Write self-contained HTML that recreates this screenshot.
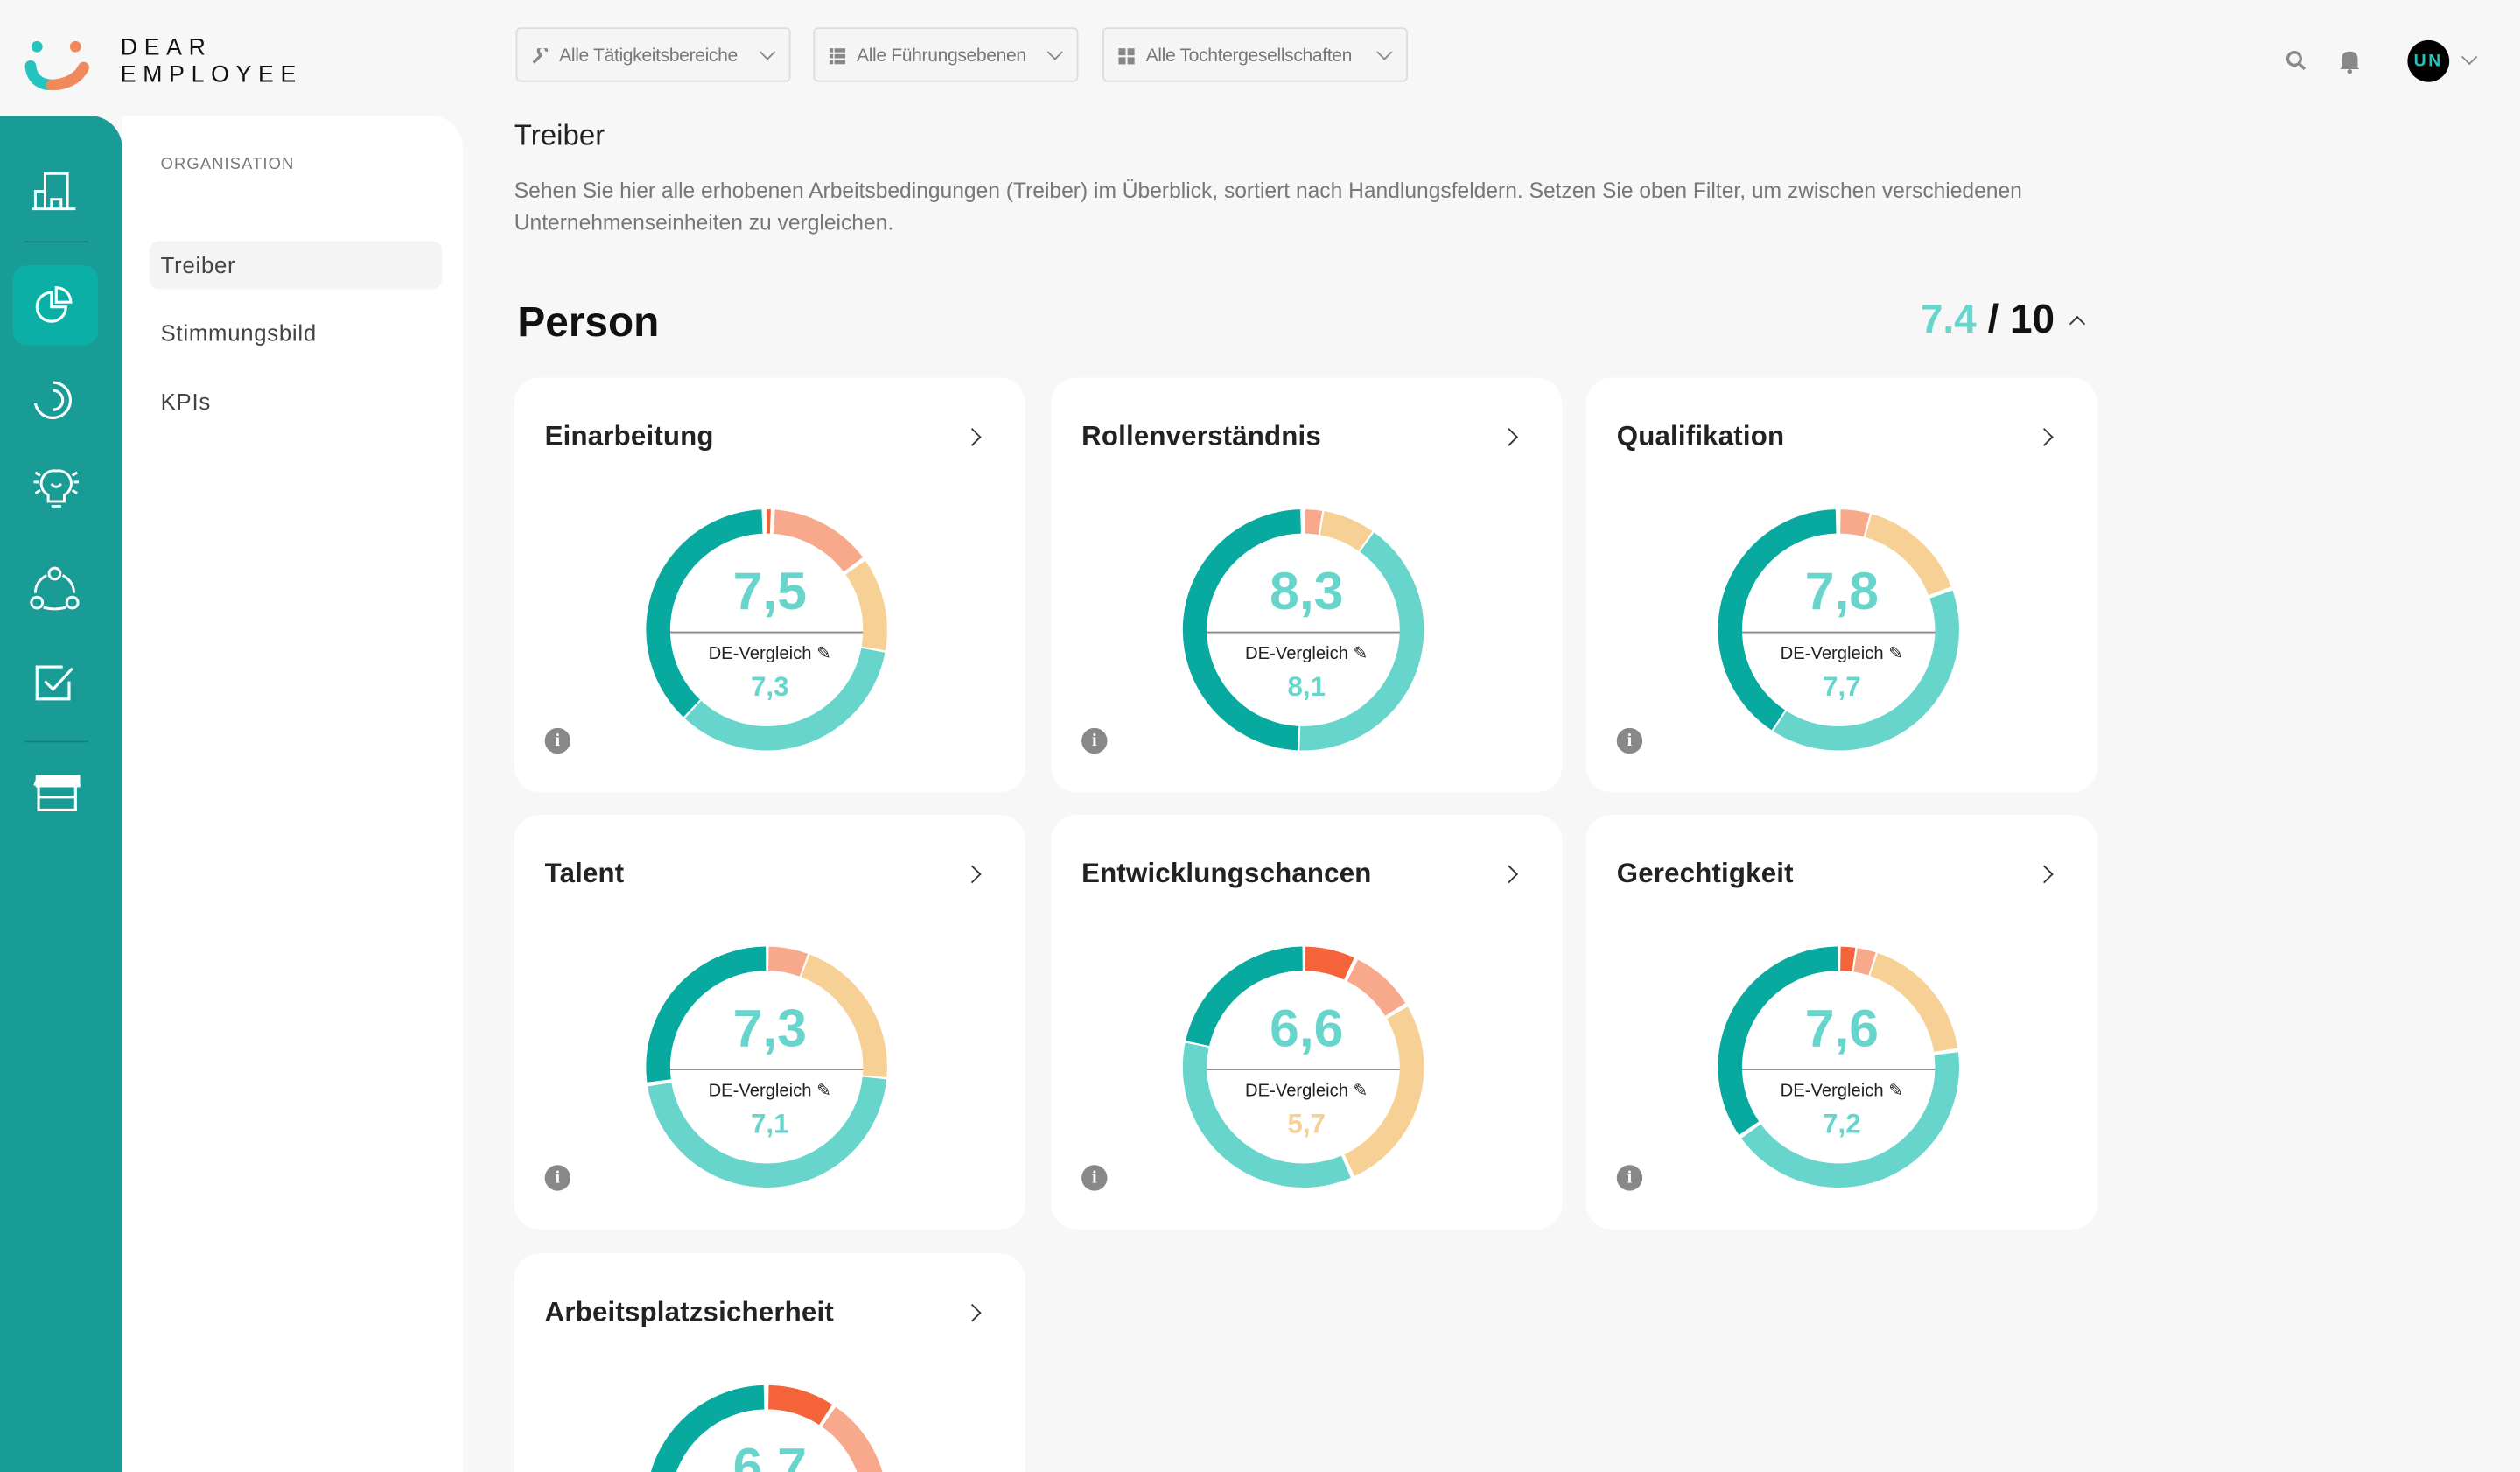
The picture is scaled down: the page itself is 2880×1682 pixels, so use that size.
<!DOCTYPE html>
<html><head><meta charset="utf-8">
<style>
html,body{margin:0;padding:0;width:2880px;height:1682px;overflow:hidden;background:#f7f7f7;}
#outer{position:relative;width:2880px;height:1682px;overflow:hidden;}
#w{position:absolute;left:0;top:0;width:1568px;height:916px;overflow:hidden;transform:scale(1.83673,1.83624);transform-origin:0 0;font-family:"Liberation Sans",sans-serif;color:#222;}
.abs{position:absolute;}
.filter{position:absolute;top:17px;height:34px;border:1px solid #ddd;border-radius:3px;background:#f5f5f5;font-size:11.5px;color:#777;line-height:34px;box-sizing:border-box;padding-left:26px;letter-spacing:-0.2px}
.filter .ic{position:absolute;left:9px;top:12px;width:10px;height:10px;}
.filter .ch{position:absolute;right:10px;top:11px;width:6px;height:6px;border-right:1.2px solid #888;border-bottom:1.2px solid #888;transform:rotate(45deg);}
.card{position:absolute;width:318px;height:258px;background:#fff;border-radius:16px;}
.card h3{position:absolute;left:19px;top:27px;margin:0;font-size:17px;font-weight:bold;color:#222;letter-spacing:0.1px}
.card .arr{position:absolute;left:281px;top:33px;width:7px;height:7px;border-right:1.4px solid #333;border-top:1.4px solid #333;transform:rotate(45deg);}
.card svg{position:absolute;left:77px;top:77px;}
.card .big{position:absolute;left:0;width:318px;text-align:center;top:114px;font-size:33px;font-weight:bold;color:#67d5cb;}
.card .ln{position:absolute;left:97px;width:120px;top:158px;height:1.3px;background:#888;}
.card .de{position:absolute;left:0;width:318px;text-align:center;top:165px;font-size:11px;color:#222;}
.card .sm{position:absolute;left:0;width:318px;text-align:center;top:183px;font-size:17px;font-weight:bold;color:#67d5cb;}
.card .info{position:absolute;left:19px;top:218px;width:16px;height:16px;border-radius:50%;background:#888;color:#fff;font-size:11px;font-weight:bold;text-align:center;line-height:16px;font-family:"Liberation Serif",serif}
.side svg{position:absolute;}
</style></head><body><div id="outer"><div id="w">

<svg class="abs" style="left:14px;top:22px" width="50" height="34" viewBox="0 0 50 34">
<circle cx="9" cy="7" r="3.5" fill="#26c4bf"/><circle cx="33" cy="7" r="3.5" fill="#f08a5d"/>
<path d="M5 19 Q6 30 18 31" stroke="#26c4bf" stroke-width="7" fill="none" stroke-linecap="round"/>
<path d="M18 31 Q33 30 38 20" stroke="#f08a5d" stroke-width="7" fill="none" stroke-linecap="round"/>
</svg>
<div class="abs" style="left:75px;top:22px;font-size:14.5px;letter-spacing:4.2px;line-height:17px;color:#111">DEAR<br>EMPLOYEE</div>

<div class="filter" style="left:321px;width:171px"><svg class="ic" viewBox="0 0 10 10"><path d="M1 9 L6 4 M6 4 A2.5 2.5 0 1 1 9 2" stroke="#888" stroke-width="1.8" fill="none"/></svg>Alle Tätigkeitsbereiche<span class="ch"></span></div>
<div class="filter" style="left:506px;width:165px"><svg class="ic" viewBox="0 0 10 10"><rect x="0" y="0" width="10" height="2.5" fill="#888"/><rect x="0" y="3.7" width="10" height="2.5" fill="#888"/><rect x="0" y="7.4" width="10" height="2.5" fill="#888"/><rect x="2.4" y="0" width="0.8" height="10" fill="#f5f5f5"/></svg>Alle Führungsebenen<span class="ch"></span></div>
<div class="filter" style="left:686px;width:190px"><svg class="ic" viewBox="0 0 10 10"><rect x="0" y="0" width="4.4" height="4.4" fill="#888"/><rect x="5.6" y="0" width="4.4" height="4.4" fill="#888"/><rect x="0" y="5.6" width="4.4" height="4.4" fill="#888"/><rect x="5.6" y="5.6" width="4.4" height="4.4" fill="#888"/></svg>Alle Tochtergesellschaften<span class="ch"></span></div>

<svg class="abs" style="left:1422px;top:31px" width="14" height="14" viewBox="0 0 14 14"><circle cx="5.5" cy="5.5" r="4" stroke="#888" stroke-width="1.8" fill="none"/><path d="M8.5 8.5 L12 12" stroke="#888" stroke-width="1.8"/></svg>
<svg class="abs" style="left:1455px;top:30px" width="14" height="16" viewBox="0 0 14 16"><path d="M2 12 L2 7 Q2 2 7 2 Q12 2 12 7 L12 12 L13 13 L1 13 Z" fill="#888"/><circle cx="7" cy="14.5" r="1.5" fill="#888"/></svg>
<div class="abs" style="left:1498px;top:25px;width:26px;height:26px;border-radius:50%;background:#000;color:#26c4bf;font-size:10.5px;font-weight:bold;text-align:center;line-height:26px;letter-spacing:1.5px">UN</div>
<div class="abs" style="left:1533px;top:32px;width:6px;height:6px;border-right:1.5px solid #888;border-bottom:1.5px solid #888;transform:rotate(45deg)"></div>

<div class="abs side" style="left:0;top:72px;width:76px;height:844px;background:#1a9c96;border-top-right-radius:20px">
 <div class="abs" style="left:15px;top:78px;width:40px;height:1px;background:#15827d"></div>
 <div class="abs" style="left:8px;top:93px;width:53px;height:50px;border-radius:9px;background:#0bafa5"></div>
 <div class="abs" style="left:15px;top:389px;width:40px;height:1px;background:#15827d"></div>
 <svg style="left:19px;top:33px" width="30" height="28" viewBox="0 0 30 28" fill="none" stroke="#fff" stroke-width="1.6"><path d="M1 25 H28 M3 25 V14 H9 M9 25 V3 H23 V25 M13 25 V19 H19 V25"/></svg>
 <svg style="left:20px;top:104px" width="28" height="28" viewBox="0 0 28 28" fill="none" stroke="#fff" stroke-width="1.7"><path d="M12 6 A9 9 0 1 0 21 15 H12 Z"/><path d="M15 3 A9 9 0 0 1 24 12 H15 Z"/></svg>
 <svg style="left:20px;top:163px" width="28" height="28" viewBox="0 0 28 28" fill="none" stroke="#fff" stroke-width="1.7"><path d="M13 3 A11 11 0 1 1 2 16"/><path d="M13 8 A6 6 0 0 1 13 20"/></svg>
 <svg style="left:19px;top:218px" width="32" height="30" viewBox="0 0 32 30" fill="none" stroke="#fff" stroke-width="1.6"><path d="M16 3 A8 8 0 0 0 11 18 V22 H21 V18 A8 8 0 0 0 16 3 Z M13 25 H19 M2 10 H5 M27 10 H30 M3 4 L6 6 M29 4 L26 6 M3 17 L6 15 M29 17 L26 15 M13 11 Q16 15 19 11"/></svg>
 <svg style="left:18px;top:280px" width="32" height="30" viewBox="0 0 32 30" fill="none" stroke="#fff" stroke-width="1.6"><circle cx="16" cy="5" r="3.5"/><circle cx="5" cy="23" r="3.5"/><circle cx="27" cy="23" r="3.5"/><path d="M11 6 Q4 10 4 17 M21 6 Q28 10 28 17 M9 26 Q16 28 23 26"/></svg>
 <svg style="left:20px;top:340px" width="28" height="26" viewBox="0 0 28 26" fill="none" stroke="#fff" stroke-width="1.7"><path d="M19 3 H3 V23 H23 V12"/><path d="M8 12 L13 17 L25 4"/></svg>
 <svg style="left:21px;top:408px" width="30" height="26" viewBox="0 0 30 26" fill="none" stroke="#fff" stroke-width="1.7"><path d="M3 9 V24 H26 V9 M3 16 H26 M3 3 H26 L28 8 H1 Z" fill="none"/><rect x="2" y="3" width="26" height="6" fill="#fff"/></svg>
</div>

<div class="abs" style="left:76px;top:72px;width:212px;height:844px;background:#fff;border-top-right-radius:20px">
 <div class="abs" style="left:24px;top:25px;font-size:10px;letter-spacing:0.6px;color:#777">ORGANISATION</div>
 <div class="abs" style="left:17px;top:78px;width:182px;height:30px;border-radius:6px;background:#f4f4f4"></div>
 <div class="abs" style="left:24px;top:85px;font-size:14px;color:#444;letter-spacing:0.4px">Treiber</div>
 <div class="abs" style="left:24px;top:127px;font-size:14px;color:#444;letter-spacing:0.4px">Stimmungsbild</div>
 <div class="abs" style="left:24px;top:170px;font-size:14px;color:#444;letter-spacing:0.4px">KPIs</div>
</div>

<div class="abs" style="left:320px;top:74px;font-size:18px;color:#222">Treiber</div>
<div class="abs" style="left:320px;top:109px;width:1010px;font-size:13.4px;line-height:20px;color:#777">Sehen Sie hier alle erhobenen Arbeitsbedingungen (Treiber) im Überblick, sortiert nach Handlungsfeldern. Setzen Sie oben Filter, um zwischen verschiedenen Unternehmenseinheiten zu vergleichen.</div>
<div class="abs" style="left:322px;top:185px;font-size:26px;font-weight:bold;color:#111">Person</div>
<div class="abs" style="left:1195px;top:185px;font-size:25px;font-weight:bold;color:#111"><span style="color:#67d5cb">7.4</span> / 10</div>
<div class="abs" style="left:1289px;top:198px;width:6px;height:6px;border-left:1.3px solid #333;border-top:1.3px solid #333;transform:rotate(45deg)"></div>

<div class="card" style="left:320px;top:235px"><h3>Einarbeitung</h3><span class="arr"></span>
<svg width="160" height="160" viewBox="0 0 160 160"><g transform="rotate(-90 80 80)" fill="none" stroke-width="15">
<circle cx="80" cy="80" r="67.5" pathLength="360" stroke="#f4633a" stroke-dasharray="2 400" stroke-dashoffset="0"/>
<circle cx="80" cy="80" r="67.5" pathLength="360" stroke="#f9a98b" stroke-dasharray="49 400" stroke-dashoffset="-4"/>
<circle cx="80" cy="80" r="67.5" pathLength="360" stroke="#f7d096" stroke-dasharray="45 400" stroke-dashoffset="-55"/>
<circle cx="80" cy="80" r="67.5" pathLength="360" stroke="#67d5cb" stroke-dasharray="122 400" stroke-dashoffset="-101"/>
<circle cx="80" cy="80" r="67.5" pathLength="360" stroke="#08a99e" stroke-dasharray="134 400" stroke-dashoffset="-224"/></g></svg>
<div class="big">7,5</div><div class="ln"></div><div class="de">DE-Vergleich ✎</div><div class="sm">7,3</div><div class="info">i</div></div>

<div class="card" style="left:654px;top:235px"><h3>Rollenverständnis</h3><span class="arr"></span>
<svg width="160" height="160" viewBox="0 0 160 160"><g transform="rotate(-90 80 80)" fill="none" stroke-width="15">
<circle cx="80" cy="80" r="67.5" pathLength="360" stroke="#f9a98b" stroke-dasharray="8 400" stroke-dashoffset="-1"/>
<circle cx="80" cy="80" r="67.5" pathLength="360" stroke="#f7d096" stroke-dasharray="25 400" stroke-dashoffset="-10"/>
<circle cx="80" cy="80" r="67.5" pathLength="360" stroke="#67d5cb" stroke-dasharray="146 400" stroke-dashoffset="-36"/>
<circle cx="80" cy="80" r="67.5" pathLength="360" stroke="#08a99e" stroke-dasharray="176 400" stroke-dashoffset="-183"/></g></svg>
<div class="big">8,3</div><div class="ln"></div><div class="de">DE-Vergleich ✎</div><div class="sm">8,1</div><div class="info">i</div></div>

<div class="card" style="left:987px;top:235px"><h3>Qualifikation</h3><span class="arr"></span>
<svg width="160" height="160" viewBox="0 0 160 160"><g transform="rotate(-90 80 80)" fill="none" stroke-width="15">
<circle cx="80" cy="80" r="67.5" pathLength="360" stroke="#f9a98b" stroke-dasharray="14 400" stroke-dashoffset="-1"/>
<circle cx="80" cy="80" r="67.5" pathLength="360" stroke="#f7d096" stroke-dasharray="53 400" stroke-dashoffset="-16"/>
<circle cx="80" cy="80" r="67.5" pathLength="360" stroke="#67d5cb" stroke-dasharray="142 400" stroke-dashoffset="-71"/>
<circle cx="80" cy="80" r="67.5" pathLength="360" stroke="#08a99e" stroke-dasharray="145 400" stroke-dashoffset="-214"/></g></svg>
<div class="big">7,8</div><div class="ln"></div><div class="de">DE-Vergleich ✎</div><div class="sm">7,7</div><div class="info">i</div></div>

<div class="card" style="left:320px;top:507px"><h3>Talent</h3><span class="arr"></span>
<svg width="160" height="160" viewBox="0 0 160 160"><g transform="rotate(-90 80 80)" fill="none" stroke-width="15">
<circle cx="80" cy="80" r="67.5" pathLength="360" stroke="#f9a98b" stroke-dasharray="19 400" stroke-dashoffset="-1"/>
<circle cx="80" cy="80" r="67.5" pathLength="360" stroke="#f7d096" stroke-dasharray="74 400" stroke-dashoffset="-21"/>
<circle cx="80" cy="80" r="67.5" pathLength="360" stroke="#67d5cb" stroke-dasharray="165 400" stroke-dashoffset="-96"/>
<circle cx="80" cy="80" r="67.5" pathLength="360" stroke="#08a99e" stroke-dasharray="97 400" stroke-dashoffset="-263"/></g></svg>
<div class="big">7,3</div><div class="ln"></div><div class="de">DE-Vergleich ✎</div><div class="sm">7,1</div><div class="info">i</div></div>

<div class="card" style="left:654px;top:507px"><h3>Entwicklungschancen</h3><span class="arr"></span>
<svg width="160" height="160" viewBox="0 0 160 160"><g transform="rotate(-90 80 80)" fill="none" stroke-width="15">
<circle cx="80" cy="80" r="67.5" pathLength="360" stroke="#f4633a" stroke-dasharray="24 400" stroke-dashoffset="-1"/>
<circle cx="80" cy="80" r="67.5" pathLength="360" stroke="#f9a98b" stroke-dasharray="31 400" stroke-dashoffset="-27"/>
<circle cx="80" cy="80" r="67.5" pathLength="360" stroke="#f7d096" stroke-dasharray="95 400" stroke-dashoffset="-60"/>
<circle cx="80" cy="80" r="67.5" pathLength="360" stroke="#67d5cb" stroke-dasharray="125 400" stroke-dashoffset="-157"/>
<circle cx="80" cy="80" r="67.5" pathLength="360" stroke="#08a99e" stroke-dasharray="77 400" stroke-dashoffset="-283"/></g></svg>
<div class="big">6,6</div><div class="ln"></div><div class="de">DE-Vergleich ✎</div><div class="sm" style="color:#f7d096">5,7</div><div class="info">i</div></div>

<div class="card" style="left:987px;top:507px"><h3>Gerechtigkeit</h3><span class="arr"></span>
<svg width="160" height="160" viewBox="0 0 160 160"><g transform="rotate(-90 80 80)" fill="none" stroke-width="15">
<circle cx="80" cy="80" r="67.5" pathLength="360" stroke="#f4633a" stroke-dasharray="7 400" stroke-dashoffset="-1"/>
<circle cx="80" cy="80" r="67.5" pathLength="360" stroke="#f9a98b" stroke-dasharray="9 400" stroke-dashoffset="-9"/>
<circle cx="80" cy="80" r="67.5" pathLength="360" stroke="#f7d096" stroke-dasharray="62 400" stroke-dashoffset="-19"/>
<circle cx="80" cy="80" r="67.5" pathLength="360" stroke="#67d5cb" stroke-dasharray="151 400" stroke-dashoffset="-83"/>
<circle cx="80" cy="80" r="67.5" pathLength="360" stroke="#08a99e" stroke-dasharray="124 400" stroke-dashoffset="-236"/></g></svg>
<div class="big">7,6</div><div class="ln"></div><div class="de">DE-Vergleich ✎</div><div class="sm">7,2</div><div class="info">i</div></div>

<div class="card" style="left:320px;top:780px"><h3>Arbeitsplatzsicherheit</h3><span class="arr"></span>
<svg width="160" height="160" viewBox="0 0 160 160"><g transform="rotate(-90 80 80)" fill="none" stroke-width="15">
<circle cx="80" cy="80" r="67.5" pathLength="360" stroke="#f4633a" stroke-dasharray="32 400" stroke-dashoffset="-1"/>
<circle cx="80" cy="80" r="67.5" pathLength="360" stroke="#f9a98b" stroke-dasharray="64 400" stroke-dashoffset="-35"/>
<circle cx="80" cy="80" r="67.5" pathLength="360" stroke="#f7d096" stroke-dasharray="50 400" stroke-dashoffset="-100"/>
<circle cx="80" cy="80" r="67.5" pathLength="360" stroke="#67d5cb" stroke-dasharray="128 400" stroke-dashoffset="-151"/>
<circle cx="80" cy="80" r="67.5" pathLength="360" stroke="#08a99e" stroke-dasharray="79 400" stroke-dashoffset="-280"/></g></svg>
<div class="big">6,7</div></div>

</div></div></body></html>
